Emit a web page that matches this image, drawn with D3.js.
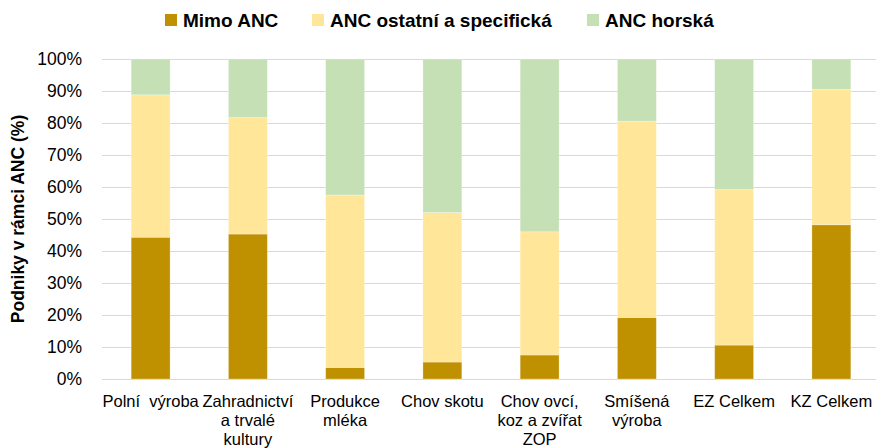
<!DOCTYPE html>
<html><head><meta charset="utf-8">
<script src="https://cdn.jsdelivr.net/npm/d3@7"></script>
<style>body{margin:0;background:#fff}svg{display:block}</style>
</head><body>
<svg id="c" width="876" height="448"></svg>
<script>
const categories = [
  ["Polní  výroba"],
  ["Zahradnictví","a trvalé","kultury"],
  ["Produkce","mléka"],
  ["Chov skotu"],
  ["Chov ovcí,","koz a zvířat","ZOP"],
  ["Smíšená","výroba"],
  ["EZ Celkem"],
  ["KZ Celkem"]
];
const seriesNames = ["Mimo ANC","ANC ostatní a specifická","ANC horská"];
const mimoANC   = [44.3, 45.3, 3.6, 5.3, 7.5, 19.2, 10.6, 48.2];
const ancOstatni= [44.5, 36.4, 53.9, 46.7, 38.5, 61.4, 48.6, 42.3];
const ancHorska = [11.2, 18.3, 42.5, 48.0, 54.0, 19.4, 40.8, 9.5];
const yTicks = [0,10,20,30,40,50,60,70,80,90,100];
const colors = ["#BF9000","#FFE699","#C5E0B4"];

(function(){
const svg = d3.select("#c");
const pL = 102, pR = 880, pT = 59, pB = 379;
const keys = categories.map((c,i)=>c.join(" ")+"_"+i);
const x = d3.scaleBand().domain(keys).range([pL,pR]).paddingInner(0.6).paddingOuter(0.3);
const y = d3.scaleLinear().domain([0,100]).range([pB,pT]);

const rows = keys.map((k,i)=>({key:k, s0:mimoANC[i], s1:ancOstatni[i], s2:ancHorska[i]}));
const stack = d3.stack().keys(["s0","s1","s2"])(rows);

svg.append("g").selectAll("line").data(yTicks).join("line")
  .attr("x1",pL).attr("x2",876).attr("y1",d=>Math.round(y(d))+0.5).attr("y2",d=>Math.round(y(d))+0.5)
  .attr("stroke","#D9D9D9").attr("stroke-width",1);

const yAxis = d3.axisLeft(y).tickValues(yTicks).tickFormat(d=>d+"%").tickSize(0).tickPadding(0);
const ga = svg.append("g").attr("transform","translate(82,0)").call(yAxis);
ga.select(".domain").remove();
ga.selectAll("text").attr("font-family","Liberation Sans, Arial, sans-serif").attr("font-size",17.5).attr("fill","#000");

svg.append("g").selectAll("g").data(stack).join("g").attr("fill",(d,i)=>colors[i])
  .selectAll("rect").data(d=>d).join("rect")
  .attr("x",d=>x(d.data.key)).attr("width",x.bandwidth())
  .attr("y",d=>y(d[1])).attr("height",d=>y(d[0])-y(d[1]))
  .attr("stroke","rgba(255,255,255,0.35)").attr("stroke-width",0.8);

const xl = svg.append("g").selectAll("text").data(keys).join("text")
  .attr("x",d=>x(d)+x.bandwidth()/2).attr("y",407)
  .attr("text-anchor","middle")
  .attr("font-family","Liberation Sans Narrow, Arial Narrow, sans-serif").attr("font-size",16.5)
  .attr("fill","#000").style("white-space","pre");
xl.each(function(d,i){
  d3.select(this).selectAll("tspan").data(categories[i]).join("tspan")
    .attr("x",x(d)+x.bandwidth()/2).attr("dy",(t,j)=>j===0?0:19).text(t=>t);
});

svg.append("text").attr("transform","translate(24,219) rotate(-90)")
  .attr("text-anchor","middle").attr("font-family","Liberation Sans, Arial, sans-serif")
  .attr("font-weight","bold").attr("font-size",17.5).attr("fill","#000")
  .text("Podniky v rámci ANC (%)");

const legX = [165, 312, 587];
const lg = svg.append("g").selectAll("g").data(seriesNames).join("g")
  .attr("transform",(d,i)=>`translate(${legX[i]},0)`);
lg.append("rect").attr("x",0).attr("y",14).attr("width",12).attr("height",12).attr("fill",(d,i)=>colors[i]);
lg.append("text").attr("x",18).attr("y",26.5)
  .attr("font-family","Liberation Sans Narrow, Arial Narrow, sans-serif").attr("font-weight","bold")
  .attr("font-size",19).attr("fill","#000").text(d=>d);
})();
</script>
</body></html>
